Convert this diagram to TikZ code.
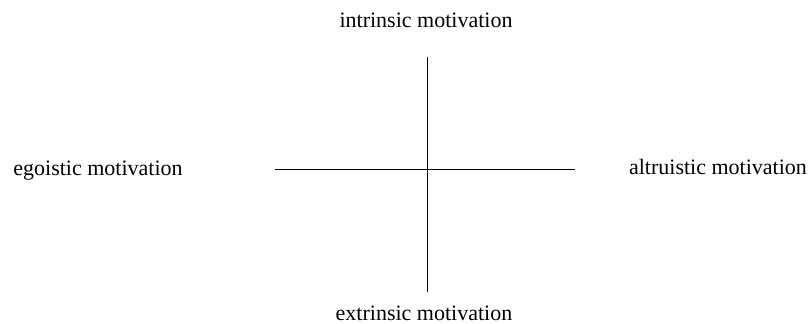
\documentclass[tikz,border=0pt]{standalone}
\usepackage{fontspec}
\setmainfont{Liberation Serif}
\usepackage{tikz}
\usetikzlibrary{positioning}
\tikzset{axisline/.style={line width=.5pt,black},
  pole/.style={font=\fontsize{11}{13}\selectfont,inner sep=0pt,align=center}}

\begin{document}
\begin{tikzpicture}[x=.5pt,y=.5pt]
\useasboundingbox (0,0) rectangle (810,324);
\coordinate (top) at (427,267);\coordinate (bot) at (427,32);
\coordinate (lft) at (275,154);\coordinate (rgt) at (575,154);
\draw[axisline] (top)--(bot);
\draw[axisline] (lft)--(rgt);
\node[pole] (intr) at (426,304) {intrinsic motivation};
\node[pole] (extr) at (424,11) {extrinsic motivation};
\node[pole] (ego) at (98,153) {egoistic motivation};
\node[pole] (altr) at (718,157) {altruistic motivation};
\end{tikzpicture}
\end{document}
